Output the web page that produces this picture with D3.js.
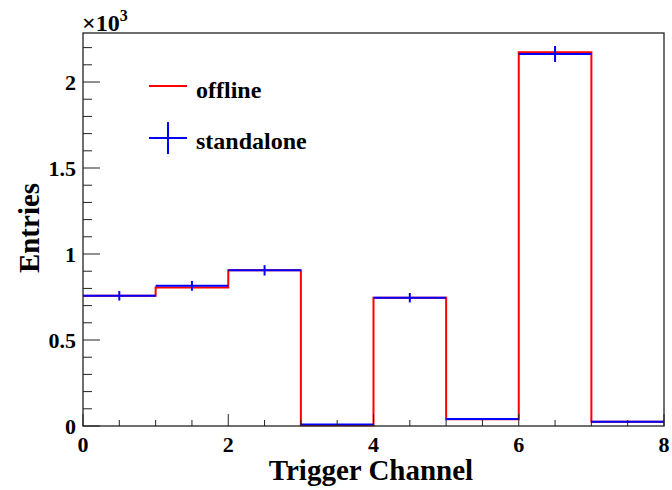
<!DOCTYPE html>
<html><head><meta charset="utf-8">
<script src="https://cdn.jsdelivr.net/npm/d3@7"></script>
<style>body{margin:0;background:#fff}svg{display:block}text{font-family:"Liberation Serif","Times New Roman",serif;font-weight:bold;fill:#000}</style>
</head><body><svg id="c" width="672" height="490"></svg>
<script>
const binEdges = [0,1,2,3,4,5,6,7,8];
const binCenters = [0.5,1.5,2.5,3.5,4.5,5.5,6.5,7.5];
const offline = [757, 806, 905, 5, 746, 39, 2173, 24];
const standalone = [757, 815, 905, 8, 746, 40, 2163, 25];
const standaloneErr = [27.5, 28.5, 30.1, 2.8, 27.3, 6.3, 46.5, 5.0];
const xMajorTicks = [0,2,4,6,8];
const yMajorTicks = [0,500,1000,1500,2000];
const yTickLabels = ["0","0.5","1","1.5","2"];
const legendLabels = ["offline","standalone"];

const svg = d3.select("#c");
const L=83, R=664, T=33, B=426;
const x = d3.scaleLinear().domain([0,8]).range([L,R]);
const y = d3.scaleLinear().domain([0,2285]).range([B,T]);

// red histogram outline
const pts = [];
offline.forEach((v,i)=>{pts.push([binEdges[i],v]);pts.push([binEdges[i+1],v]);});
svg.append("path").attr("d", d3.line().x(d=>x(d[0])).y(d=>y(d[1]))(pts))
  .attr("fill","none").attr("stroke","#ff0000").attr("stroke-width",2);

// blue points with errors
const g = svg.append("g").attr("stroke","#0000ff").attr("stroke-width",2);
standalone.forEach((v,i)=>{
  g.append("line").attr("x1",x(binEdges[i])).attr("x2",x(binEdges[i+1])).attr("y1",y(v)).attr("y2",y(v));
  g.append("line").attr("x1",x(binCenters[i])).attr("x2",x(binCenters[i])).attr("y1",y(v-standaloneErr[i])).attr("y2",y(v+standaloneErr[i]));
});

// frame
svg.append("rect").attr("x",L).attr("y",T).attr("width",R-L).attr("height",B-T)
  .attr("fill","none").attr("stroke","#222").attr("stroke-width",1.3);

// x ticks
const xt = svg.append("g").attr("stroke","#222").attr("stroke-width",1);
d3.range(0,8.001,0.5).forEach(v=>{
  const maj = xMajorTicks.includes(v);
  xt.append("line").attr("x1",x(v)).attr("x2",x(v)).attr("y1",B).attr("y2",B-(maj?12:6));
});
svg.append("g").selectAll("text").data(xMajorTicks).join("text")
  .attr("x",d=>x(d)).attr("y",452).attr("text-anchor","middle").attr("font-size",22).text(d=>d);

// y ticks
const yt = svg.append("g").attr("stroke","#222").attr("stroke-width",1);
d3.range(0,2201,100).forEach(v=>{
  const maj = yMajorTicks.includes(v);
  yt.append("line").attr("x1",L).attr("x2",L+(maj?17:9)).attr("y1",y(v)).attr("y2",y(v));
});
svg.append("g").selectAll("text").data(yMajorTicks).join("text")
  .attr("x",76).attr("y",d=>y(d)+7.5).attr("text-anchor","end").attr("font-size",22).text((d,i)=>yTickLabels[i]);

// multiplier
const m = svg.append("text").attr("x",82).attr("y",31).attr("font-size",24);
m.append("tspan").text("×10");
m.append("tspan").attr("dy",-10).attr("font-size",16).text("3");

// titles
svg.append("text").attr("x",371).attr("y",480).attr("text-anchor","middle").attr("font-size",29).text("Trigger Channel");
svg.append("text").attr("transform","translate(39,228) rotate(-90)").attr("text-anchor","middle").attr("font-size",29).text("Entries");

// legend
svg.append("line").attr("x1",149).attr("x2",187).attr("y1",86).attr("y2",86).attr("stroke","#ff0000").attr("stroke-width",2);
svg.append("line").attr("x1",149).attr("x2",187).attr("y1",138).attr("y2",138).attr("stroke","#0000ff").attr("stroke-width",2);
svg.append("line").attr("x1",168).attr("x2",168).attr("y1",122).attr("y2",154).attr("stroke","#0000ff").attr("stroke-width",2);
svg.append("text").attr("x",196).attr("y",97.5).attr("font-size",24).text(legendLabels[0]);
svg.append("text").attr("x",196).attr("y",149).attr("font-size",24).text(legendLabels[1]);
</script></body></html>
